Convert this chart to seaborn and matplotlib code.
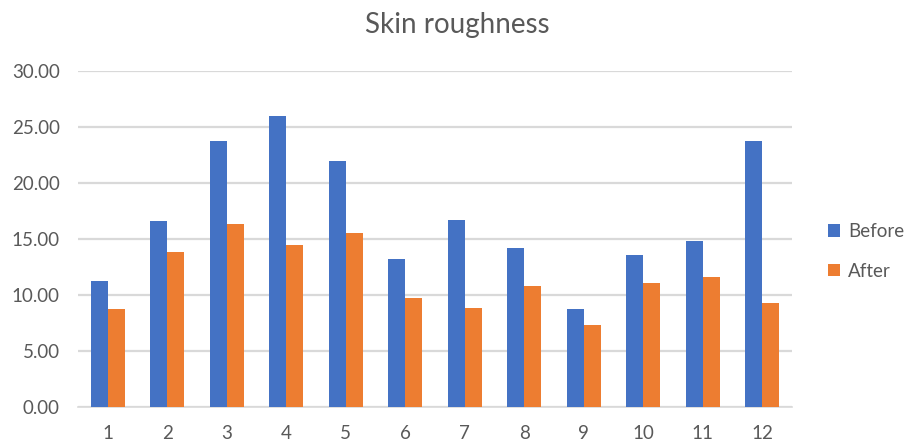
import pandas as pd
import matplotlib
matplotlib.use('Agg')
import matplotlib.pyplot as plt
import seaborn as sns

subjects = ['1', '2', '3', '4', '5', '6', '7', '8', '9', '10', '11', '12']
before = [11.21, 16.59, 23.79, 25.96, 21.97, 13.20, 16.68, 14.15, 8.71, 13.56, 14.81, 23.73]
after = [8.74, 13.83, 16.35, 14.45, 15.49, 9.72, 8.80, 10.76, 7.31, 11.09, 11.60, 9.25]
series = ['Before', 'After']
colors = ['#4472C4', '#ED7D31']
yticks = [0, 5, 10, 15, 20, 25, 30]


def build_frame():
    df = pd.DataFrame({'subject': subjects * 2,
                       'value': before + after,
                       'when': [series[0]] * len(subjects) + [series[1]] * len(subjects)})
    return df


def draw_graph(df):
    sns.set_style('white')
    plt.rcParams['font.family'] = ['Lato', 'DejaVu Sans']
    text_color = '#595959'
    grid_color = '#D9D9D9'

    fig = plt.figure(figsize=(9.15, 4.41), dpi=100)
    ax = fig.add_axes([0.0852, 0.0771, 0.7803, 0.762])

    sns.barplot(data=df, x='subject', y='value', hue='when', order=subjects,
                hue_order=series, palette=colors, width=0.57, saturation=1,
                errorbar=None, linewidth=0, ax=ax, zorder=3)

    ax.set_ylim(0, 30)
    ax.set_yticks(yticks)
    ax.set_yticklabels([f'{t:.2f}' for t in yticks])
    ax.set_xlim(-0.5, len(subjects) - 0.5)
    ax.set_xlabel('')
    ax.set_ylabel('')
    ax.yaxis.grid(True, color=grid_color, linewidth=1.6, zorder=0)
    ax.set_axisbelow(True)
    for side in ['top', 'right', 'left']:
        ax.spines[side].set_visible(False)
    ax.spines['bottom'].set_color(grid_color)
    ax.spines['bottom'].set_linewidth(1.2)
    ax.tick_params(axis='both', length=0, labelsize=13.5, colors=text_color)
    ax.tick_params(axis='y', pad=13)
    ax.tick_params(axis='x', pad=13)

    fig.text(0.5, 1 - 25 / 441, 'Skin roughness', ha='center', va='center',
             fontsize=20, color=text_color)

    ax.get_legend().remove()
    handles, labels = ax.get_legend_handles_labels()
    leg = fig.legend(handles, labels, loc='center left', bbox_to_anchor=(0.886, 0.43),
                     frameon=False, fontsize=13.5, handlelength=0.65, handleheight=0.65,
                     handletextpad=0.45, labelspacing=1.2)
    for t in leg.get_texts():
        t.set_color(text_color)

    fig.savefig('out.png', dpi=100)


def main():
    df = build_frame()
    draw_graph(df)


if __name__ == '__main__':
    main()
